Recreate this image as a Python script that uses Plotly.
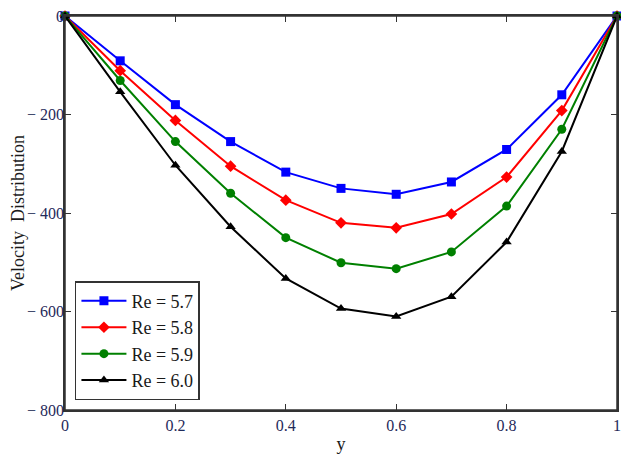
import plotly.graph_objects as go

y_pos = [0, 0.1, 0.2, 0.3, 0.4, 0.5, 0.6, 0.7, 0.8, 0.9, 1.0]
re57 = [0, -91, -180, -255, -317, -350, -362, -337, -271, -160, 0]
re58 = [0, -111, -212, -305, -374, -420, -430, -402, -327, -192, 0]
re59 = [0, -131, -255, -360, -450, -501, -513, -479, -386, -230, 0]
re60 = [0, -154, -303, -428, -533, -594, -610, -570, -459, -275, 0]
names = ["Re = 5.7", "Re = 5.8", "Re = 5.9", "Re = 6.0"]
colors = ["#0000ff", "#ff0000", "#008000", "#000000"]
symbols = ["square", "diamond", "circle", "triangle-up"]
series = [re57, re58, re59, re60]

xticks = [0, 0.2, 0.4, 0.6, 0.8, 1]
xticktext = ["0", "0.2", "0.4", "0.6", "0.8", "1"]
yticks = [0, -200, -400, -600, -800]
yticktext = ["0", "\u2212 200", "\u2212 400", "\u2212 600", "\u2212 800"]

fig = go.Figure()
for s, n, c, m in zip(series, names, colors, symbols):
    fig.add_trace(go.Scatter(x=y_pos, y=s, name=n, mode="lines+markers",
                             line=dict(color=c, width=2), cliponaxis=False,
                             marker=dict(symbol=m, size=9, color=c)))

font = "Liberation Serif, Times New Roman, serif"
fig.update_layout(
    width=613, height=446,
    margin=dict(l=57, r=4, t=8, b=44),
    plot_bgcolor="white", paper_bgcolor="white",
    font=dict(family=font, size=16, color="#1f2a5a"),
    showlegend=True,
    legend=dict(x=0.018, y=0.025, xanchor="left", yanchor="bottom",
                bordercolor="#333", borderwidth=1.5, bgcolor="white",
                font=dict(family=font, size=18, color="#1a1a1a"),
                itemwidth=45, tracegroupgap=0),
    xaxis=dict(range=[0, 1], tickvals=xticks, ticktext=xticktext,
               ticks="inside", ticklen=6, tickcolor="#333", mirror="allticks",
               showline=True, linecolor="#333", linewidth=1.5, showgrid=False,
               zeroline=False, automargin=False,
               title=dict(text="y", font=dict(family=font, size=18, color="#1a1a1a"), standoff=4)),
    yaxis=dict(range=[-800, 0], tickvals=yticks, ticktext=yticktext,
               ticks="inside", ticklen=6, tickcolor="#333", mirror="allticks",
               showline=True, linecolor="#333", linewidth=1.5, showgrid=False,
               zeroline=False, automargin=False, ticklabelstandoff=-4,
               ticklabeloverflow="allow",
               title=dict(text="Velocity  Distribution", font=dict(family=font, size=18, color="#1a1a1a"), standoff=0)),
    shapes=[dict(type="rect", xref="paper", yref="paper", x0=0, y0=0, x1=1, y1=1,
                 line=dict(color="#333", width=1.5), layer="above")],
)
fig.write_html("out.html")
